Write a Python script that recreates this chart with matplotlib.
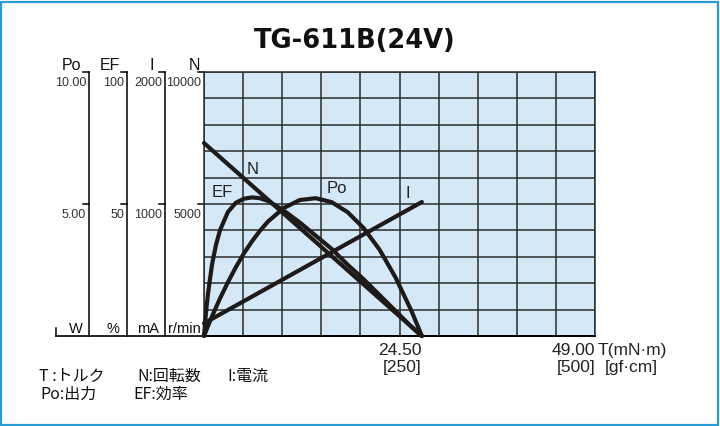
import matplotlib
matplotlib.use("Agg")
import matplotlib.pyplot as plt
import matplotlib.transforms as mtransforms
from matplotlib.patches import Rectangle

W, H = 720, 426

# Curves, torque in mN·m
torque = [0, 0.25, 0.5, 1, 1.5, 2, 3, 4, 5, 6, 7, 8, 10, 12, 14, 16, 18, 20, 22, 24, 26, 27.3]
output_w = [0, 0.19, 0.38, 0.74, 1.08, 1.42, 2.04, 2.61, 3.13, 3.58, 3.98, 4.33,
            4.85, 5.15, 5.22, 5.07, 4.69, 4.09, 3.27, 2.22, 0.95, 0]
efficiency = [0, 9, 16, 27, 34.5, 40, 47, 50.5, 52, 52.5, 52.2, 51.2,
              47.5, 43, 38, 33, 27, 21.5, 15.5, 9.5, 3.5, 0]

line_torque = [0, 27.3]
speed_rpm = [7310, 0]
current_ma = [96, 1015]

# left scales
scale_names = ["Po", "EF", "I", "N"]
scale_top = ["10.00", "100", "2000", "10000"]
scale_mid = ["5.00", "50", "1000", "5000"]
scale_units = ["W", "%", "mA", "r/min"]

x_tick_pos = [27.3, 49.0]
x_tick_mnm = ["24.50", "49.00"]
x_tick_gf = ["[250]", "[500]"]

SANS = ["Liberation Sans", "DejaVu Sans"]
CJK = ["Noto Sans CJK JP", "DejaVu Sans"]

fig = plt.figure(figsize=(W / 100, H / 100), dpi=100)
fig.patch.set_facecolor("white")
fig.patches.append(Rectangle((1 / W, 1 / H), 717 / W, 423 / H, transform=fig.transFigure,
                             fill=False, edgecolor="#2a9bd3", lw=1.6))

ax = fig.add_axes([204 / W, (H - 336) / H, 391 / W, 264 / H])
ax.set_xlim(0, 49)
ax.set_ylim(0, 10)
ax.set_facecolor("#d5e8f7")
ax.set_xticks([4.9 * i for i in range(11)])
ax.set_yticks(range(11))
ax.grid(True, color="#2b2b2b", lw=1.1)
ax.tick_params(length=0, labelbottom=False, labelleft=False)
for s in ax.spines.values():
    s.set_color("#2b2b2b")
    s.set_linewidth(1.1)
ax.spines["bottom"].set_color("black")
ax.spines["bottom"].set_linewidth(1.4)

# curves, all drawn on the 0..10 grid scale
kw = dict(color="#1e1a1a", lw=3.0, solid_capstyle="round", solid_joinstyle="round", clip_on=False, zorder=3)
ax.plot(line_torque, [v / 1000 for v in speed_rpm], **kw)
ax.plot(line_torque, [v / 200 for v in current_ma], **kw)
ax.plot(torque, output_w, **kw)
ax.plot(torque, [v / 10 for v in efficiency], **kw)

lab = dict(fontsize=12, family=SANS, ha="center", va="center", color="#222222")
ax.text(6.14, 6.29, "N", **lab)
ax.text(2.26, 5.42, "EF", **lab)
ax.text(16.7, 5.57, "Po", **lab)
ax.text(25.6, 5.38, "I", **lab)

# left scale lines, x in figure pixels, y in chart data
tr = mtransforms.blended_transform_factory(fig.transFigure, ax.transData)
line_x = [89, 127, 165, 204]
name_right = [81, 120, 154, 200]
unit_right = [83, 119, 159, 201]
num_tr = mtransforms.offset_copy(tr, fig=fig, y=-5, units="dots")
name_tr = mtransforms.offset_copy(tr, fig=fig, y=2, units="dots")
unit_tr = mtransforms.offset_copy(tr, fig=fig, y=3, units="dots")
for i in range(4):
    x = line_x[i]
    if i < 3:
        ax.plot([x / W, x / W], [0, 10], transform=tr, color="black", lw=1.1, clip_on=False)
    for lvl in (10, 5):
        ax.plot([(x - 6) / W, x / W], [lvl, lvl], transform=tr, color="black", lw=1.1, clip_on=False)
    ax.text((x - 3) / W, 10, scale_top[i], transform=num_tr, ha="right", va="top",
            fontsize=9, family=SANS, color="#333333")
    ax.text((x - 3) / W, 5, scale_mid[i], transform=num_tr, ha="right", va="top",
            fontsize=9, family=SANS, color="#333333")
    ax.text(name_right[i] / W, 10, scale_names[i], transform=name_tr,
            ha="right", va="baseline", fontsize=11.5, family=SANS, color="#111111")
    ax.text(unit_right[i] / W, 0, scale_units[i], transform=unit_tr,
            ha="right", va="baseline", fontsize=10.5, family=SANS, color="#111111")

# baseline under the scales
ax.plot([56 / W, 204 / W], [0, 0], transform=tr, color="black", lw=1.2, clip_on=False)
ax.plot([56 / W, 56 / W], [0, 0.3], transform=tr, color="black", lw=1.1, clip_on=False)

# x labels
trx = mtransforms.blended_transform_factory(ax.transData, fig.transFigure)
for xp, a, b in zip(x_tick_pos, x_tick_mnm, x_tick_gf):
    ax.text(xp, 1 - 355 / H, a, transform=trx, ha="right", va="baseline",
            fontsize=12.5, family=SANS, color="#222222")
    ax.text(xp, 1 - 372 / H, b, transform=trx, ha="right", va="baseline",
            fontsize=12.5, family=SANS, color="#222222")
fig.text(598 / W, 1 - 355 / H, "T(mN·m)", ha="left", va="baseline", fontsize=12.5, family=SANS, color="#222222")
fig.text(605 / W, 1 - 372 / H, "[gf·cm]", ha="left", va="baseline", fontsize=12.5, family=SANS, color="#222222")

# title
fig.text(355 / W, 1 - 48 / H, "TG-611B(24V)", ha="center", va="baseline",
         fontsize=18.5, fontweight="bold", family=["DejaVu Sans"], color="#111111")

# legend of symbols
leg = dict(ha="left", va="baseline", fontsize=11.5, family=CJK, color="#111111")
fig.text(39 / W, 1 - 381 / H, "T :トルク", **leg)
fig.text(137 / W, 1 - 381 / H, "N:回転数", **leg)
fig.text(227 / W, 1 - 381 / H, "I:電流", **leg)
fig.text(40 / W, 1 - 399 / H, "Po:出力", **leg)
fig.text(133 / W, 1 - 399 / H, "EF:効率", **leg)

fig.savefig("out.png", dpi=100)
